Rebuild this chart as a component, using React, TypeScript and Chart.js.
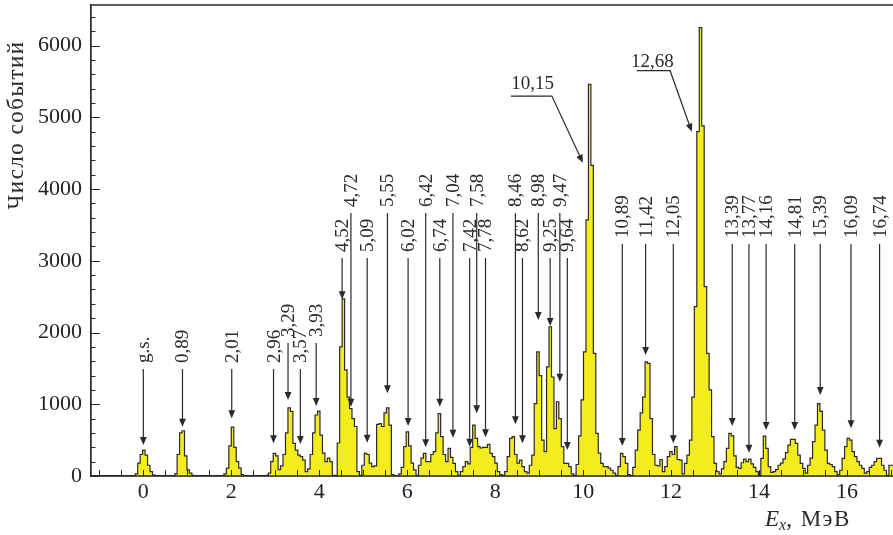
import React, { useEffect, useRef } from 'react';
import { Chart, registerables } from 'chart.js';

Chart.register(...registerables);

// ---- histogram (bin edges: BIN_START + k * BIN_WIDTH, MeV) ----
const BIN_START = -0.24;
const BIN_WIDTH = 0.056;

const countsA = [5, 30, 180, 300, 362, 290, 150, 60, 15, 5, 0, 0, 0, 0, 0, 0, 5, 30, 300, 600, 631, 280, 85, 40, 10, 5, 0, 0, 0, 0, 0, 0, 0, 0, 0, 0, 5, 30, 110, 420];
const countsB = [680, 400, 200, 110, 20, 5, 0, 0, 0, 0, 0, 0, 5, 5, 10, 40, 200, 316, 280, 90, 140, 300, 600, 950, 900, 455, 360, 290, 270, 220, 60, 100, 300, 600, 850, 905, 570, 320, 200, 250];
const countsC = [200, 10, 10, 460, 1800, 2470, 1480, 1100, 940, 800, 690, 60, 10, 150, 316, 300, 180, 130, 140, 720, 730, 690, 880, 950, 710, 20, 5, 5, 30, 120, 410, 615, 420, 180, 85, 10, 150, 250, 316, 200];
const countsD = [200, 300, 340, 600, 870, 550, 300, 200, 385, 260, 175, 60, 10, 60, 130, 200, 170, 400, 710, 525, 410, 390, 400, 400, 440, 315, 270, 180, 60, 20, 10, 60, 270, 525, 550, 300, 180, 220, 130, 60];
const countsE = [40, 150, 290, 1010, 1730, 1400, 500, 340, 1520, 2080, 1380, 660, 1035, 800, 410, 175, 175, 130, 30, 10, 160, 560, 1060, 1730, 3570, 5460, 4330, 1710, 595, 320, 175, 130, 130, 110, 80, 40, 10, 130, 316, 270];
const countsF = [177, 20, 5, 120, 360, 640, 880, 1100, 1590, 1570, 800, 300, 150, 140, 230, 60, 130, 270, 340, 300, 410, 230, 220, 30, 177, 290, 500, 1100, 2360, 4800, 6250, 4880, 2640, 1710, 1200, 550, 177, 60, 30, 100];
const countsG = [200, 385, 595, 560, 280, 120, 107, 185, 235, 200, 235, 170, 120, 60, 10, 245, 557, 385, 130, 50, 60, 90, 150, 180, 240, 325, 430, 510, 510, 455, 290, 175, 105, 40, 150, 250, 480, 710, 1010, 900];
const countsH = [640, 360, 175, 160, 130, 60, 20, 80, 245, 410, 525, 500, 340, 270, 200, 150, 105, 40, 60, 120, 150, 200, 245, 245, 150, 80, 10, 150, 150, 150];

// ---- axes ----
const X_MIN = -1.19;
const X_MAX = 17.045;
const Y_MAX = 6565;
const xTickLabels = [0, 2, 4, 6, 8, 10, 12, 14, 16];
const yTickLabels = [0, 1000, 2000, 3000, 4000, 5000, 6000];
const X_MINOR = 0.5;
const Y_MINOR = 200;

// ---- level annotations (vertical labels with arrows) ----
const levelLabels = ['g.s.', '0,89', '2,01', '2,96', '3,29', '3,57', '3,93', '4,52', '4,72', '5,09', '5,55', '6,02', '6,42', '6,74', '7,04', '7,42', '7,58', '7,78', '8,46', '8,62', '8,98', '9,25', '9,47', '9,64', '10,89', '11,42', '12,05', '13,39', '13,77', '14,16', '14,81', '15,39', '16,09', '16,74'];
const levelEnergies = [0, 0.89, 2.01, 2.96, 3.29, 3.57, 3.93, 4.52, 4.72, 5.09, 5.55, 6.02, 6.42, 6.74, 7.04, 7.42, 7.58, 7.78, 8.46, 8.62, 8.98, 9.25, 9.47, 9.64, 10.89, 11.42, 12.05, 13.39, 13.77, 14.16, 14.81, 15.39, 16.09, 16.74];
const levelTextBase = [1575, 1575, 1575, 1575, 1937, 1575, 1937, 3122, 3749, 3122, 3749, 3122, 3749, 3122, 3749, 3122, 3749, 3122, 3749, 3122, 3749, 3122, 3749, 3122, 3317, 3317, 3317, 3317, 3317, 3317, 3317, 3317, 3317, 3317];
const levelTips = [432, 687, 804, 456, 1059, 446, 976, 2463, 966, 464, 1153, 697, 400, 966, 534, 408, 874, 539, 721, 456, 2174, 2091, 1314, 362, 418, 1686, 456, 697, 325, 641, 641, 1129, 665, 394];

// ---- callouts for the two strongest peaks ----
const calloutLabels = ['10,15', '12,68'];
const calloutTextE = [8.85, 11.573];
const calloutTextCounts = [5394, 5700];
const calloutBarFromE = [8.357, 11.22];
const calloutBarToE = [9.289, 11.977];
const calloutBarCounts = [5296, 5649];
const calloutTipE = [9.993, 12.47];
const calloutTipCounts = [4366, 4799];

const FILL = '#f5ec1e';
const EDGE = '#2a2a2a';
const AXIS = '#2a2a2a';
const FONT = '"Liberation Serif", "DejaVu Serif", serif';

function arrowHead(ctx: CanvasRenderingContext2D, fx: number, fy: number, tx: number, ty: number) {
  const ang = Math.atan2(ty - fy, tx - fx);
  const len = 8;
  const half = 3.4;
  const bx = tx - len * Math.cos(ang);
  const by = ty - len * Math.sin(ang);
  ctx.beginPath();
  ctx.moveTo(tx, ty);
  ctx.lineTo(bx + half * Math.sin(ang), by - half * Math.cos(ang));
  ctx.lineTo(bx - half * Math.sin(ang), by + half * Math.cos(ang));
  ctx.closePath();
  ctx.fill();
}

const overlayPlugin = {
  id: 'overlay',
  afterDatasetsDraw(chart: any) {
    const { ctx, chartArea: a } = chart;
    const xs = chart.scales.x;
    const ys = chart.scales.y;
    ctx.save();
    ctx.strokeStyle = AXIS;
    ctx.fillStyle = AXIS;

    // frame: top, bottom and left lines
    ctx.lineWidth = 1.3;
    ctx.beginPath();
    ctx.moveTo(a.left, a.top);
    ctx.lineTo(a.right, a.top);
    ctx.moveTo(a.left, a.bottom);
    ctx.lineTo(a.right, a.bottom);
    ctx.moveTo(a.left, a.top);
    ctx.lineTo(a.left, a.bottom);
    ctx.stroke();

    // inward ticks
    ctx.lineWidth = 1;
    ctx.beginPath();
    for (let v = Math.ceil(X_MIN / X_MINOR) * X_MINOR; v <= X_MAX; v += X_MINOR) {
      const px = Math.round(xs.getPixelForValue(v)) + 0.5;
      ctx.moveTo(px, a.bottom);
      ctx.lineTo(px, a.bottom - 6);
    }
    for (let v = 0; v <= Y_MAX; v += Y_MINOR) {
      const py = Math.round(ys.getPixelForValue(v)) + 0.5;
      const major = v % 1000 === 0;
      ctx.moveTo(a.left, py);
      ctx.lineTo(a.left + (major ? 9 : 4.5), py);
    }
    ctx.stroke();

    // level annotations
    ctx.lineWidth = 1.2;
    ctx.font = `19px ${FONT}`;
    levelLabels.forEach((lab, i) => {
      const px = xs.getPixelForValue(levelEnergies[i]);
      const base = ys.getPixelForValue(levelTextBase[i]);
      const tip = ys.getPixelForValue(levelTips[i]);
      ctx.save();
      ctx.translate(px, base);
      ctx.rotate(-Math.PI / 2);
      ctx.textAlign = 'left';
      ctx.textBaseline = 'middle';
      ctx.fillText(lab, 0, 1);
      ctx.restore();
      ctx.beginPath();
      ctx.moveTo(px, base + 6);
      ctx.lineTo(px, tip - 6);
      ctx.stroke();
      arrowHead(ctx, px, base, px, tip);
    });

    // callouts
    calloutLabels.forEach((lab, i) => {
      const tx = xs.getPixelForValue(calloutTextE[i]);
      const ty = ys.getPixelForValue(calloutTextCounts[i]);
      ctx.textAlign = 'center';
      ctx.textBaseline = 'alphabetic';
      ctx.fillText(lab, tx, ty);
      const x0 = xs.getPixelForValue(calloutBarFromE[i]);
      const x1 = xs.getPixelForValue(calloutBarToE[i]);
      const yb = ys.getPixelForValue(calloutBarCounts[i]);
      const tipx = xs.getPixelForValue(calloutTipE[i]);
      const tipy = ys.getPixelForValue(calloutTipCounts[i]);
      const ang = Math.atan2(tipy - yb, tipx - x1);
      ctx.beginPath();
      ctx.moveTo(x0, yb);
      ctx.lineTo(x1, yb);
      ctx.lineTo(tipx - 6 * Math.cos(ang), tipy - 6 * Math.sin(ang));
      ctx.stroke();
      arrowHead(ctx, x1, yb, tipx, tipy);
    });

    // y axis title (rotated)
    const yTitle = 'Число событий';
    ctx.save();
    ctx.font = `23px ${FONT}`;
    (ctx as any).letterSpacing = '1.5px';
    ctx.translate(23, 125);
    ctx.rotate(-Math.PI / 2);
    ctx.textAlign = 'center';
    ctx.textBaseline = 'alphabetic';
    ctx.fillText(yTitle, 0, 0);
    ctx.restore();

    // x axis title: E_x, МэВ
    ctx.textAlign = 'left';
    ctx.textBaseline = 'alphabetic';
    let cx = 765;
    const by = 526;
    ctx.font = `italic 23px ${FONT}`;
    ctx.fillText('E', cx, by);
    cx += ctx.measureText('E').width;
    ctx.font = `italic 16px ${FONT}`;
    ctx.fillText('x', cx, by + 4);
    cx += ctx.measureText('x').width;
    ctx.save();
    ctx.font = `23px ${FONT}`;
    (ctx as any).letterSpacing = '1.5px';
    ctx.fillText(', МэВ', cx, by);
    ctx.restore();

    ctx.restore();
  },
};

export default function App() {
  const canvasRef = useRef<HTMLCanvasElement | null>(null);

  useEffect(() => {
    const canvas = canvasRef.current;
    if (!canvas) return;
    const counts = [...countsA, ...countsB, ...countsC, ...countsD, ...countsE, ...countsF, ...countsG, ...countsH];
    const pts: { x: number; y: number }[] = [{ x: BIN_START, y: 0 }];
    counts.forEach((c, i) => pts.push({ x: BIN_START + i * BIN_WIDTH, y: c }));
    pts.push({ x: BIN_START + counts.length * BIN_WIDTH, y: 0 });

    const tickFont = { family: FONT, size: 22 };
    const chart = new Chart(canvas, {
      type: 'line',
      data: {
        datasets: [
          {
            data: pts,
            stepped: true,
            fill: 'origin',
            backgroundColor: FILL,
            borderColor: EDGE,
            borderWidth: 1.2,
            pointRadius: 0,
            tension: 0,
          },
        ],
      },
      options: {
        animation: false,
        responsive: false,
        maintainAspectRatio: false,
        devicePixelRatio: 1,
        layout: { padding: { top: 5, right: 0, left: 0, bottom: 0 } },
        plugins: { legend: { display: false }, tooltip: { enabled: false } },
        scales: {
          x: {
            type: 'linear',
            min: X_MIN,
            max: X_MAX,
            afterBuildTicks: (s: any) => {
              s.ticks = xTickLabels.map((v) => ({ value: v }));
            },
            afterFit: (s: any) => {
              s.height = 59;
              s.paddingLeft = 0;
              s.paddingRight = 0;
            },
            grid: { display: false, drawTicks: false },
            border: { display: true, color: AXIS, width: 1.3 },
            ticks: {
              font: tickFont,
              color: '#222',
              padding: 3,
              maxRotation: 0,
              autoSkip: false,
              callback: (v: any) => String(v),
            },
          },
          y: {
            type: 'linear',
            min: 0,
            max: Y_MAX,
            afterBuildTicks: (s: any) => {
              s.ticks = yTickLabels.map((v) => ({ value: v }));
            },
            afterFit: (s: any) => {
              s.width = 91;
              s.paddingTop = 0;
              s.paddingBottom = 0;
            },
            grid: { display: false, drawTicks: false },
            border: { display: true, color: AXIS, width: 1.3 },
            ticks: {
              font: tickFont,
              color: '#222',
              padding: 9,
              autoSkip: false,
              callback: (v: any) => String(v),
            },
          },
        },
      },
      plugins: [overlayPlugin],
    } as any);
    return () => chart.destroy();
  }, []);

  return (
    <div style={{ position: 'absolute', left: 0, top: 0, width: 893, height: 535, background: '#fff' }}>
      <canvas ref={canvasRef} width={893} height={535} style={{ display: 'block', width: 893, height: 535 }} />
    </div>
  );
}
